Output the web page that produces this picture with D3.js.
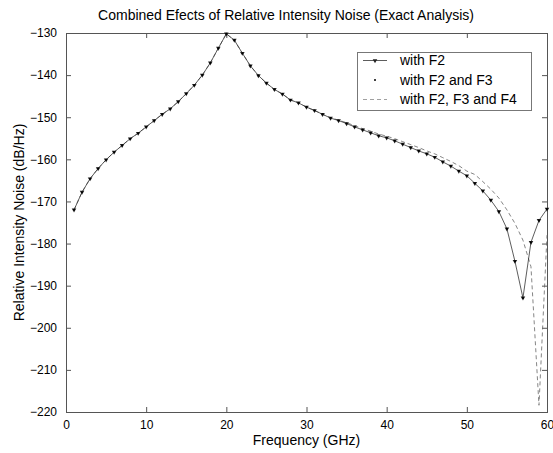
<!DOCTYPE html>
<html>
<head>
<meta charset="utf-8">
<script src="https://cdn.jsdelivr.net/npm/d3@7"></script>
<style>
  body { margin: 0; background: #fff; }
  svg { font-family: "Liberation Sans", Arial, sans-serif; }
  .tick text { font-size: 12px; fill: #000; }
  .label { font-size: 14px; fill: #000; }
</style>
</head>
<body>
<svg width="553" height="453"></svg>
<script>
const freq = d3.range(1, 61);

// with F2 (and F3, which lies on top of it)
const f2 = [
  -172.0, -167.8, -164.6, -162.2, -160.1, -158.3, -156.7, -155.1, -153.8, -152.3,
  -150.8, -149.3, -148.0, -146.3, -144.4, -142.4, -140.0, -137.1, -133.6, -130.2,
  -131.7, -134.8, -137.8, -140.1, -141.9, -143.4, -144.5, -145.9, -146.6, -147.6,
  -148.4, -149.3, -150.2, -150.8, -151.5, -152.3, -153.0, -153.7, -154.4, -154.9,
  -155.6, -156.4, -157.2, -158.0, -158.7, -159.5, -160.6, -161.6, -162.8, -163.9,
  -165.7, -167.5, -169.7, -172.4, -176.5, -184.2, -192.9, -179.7, -174.5, -171.8
];
const f23 = f2.slice();
const f234 = [
  -172.0, -167.8, -164.6, -162.2, -160.1, -158.3, -156.7, -155.1, -153.8, -152.3,
  -150.8, -149.3, -148.0, -146.3, -144.4, -142.4, -140.0, -137.1, -133.6, -130.2,
  -131.7, -134.8, -137.8, -140.1, -141.9, -143.4, -144.5, -145.9, -146.6, -147.6,
  -148.4, -149.3, -150.1, -150.7, -151.3, -152.0, -152.7, -153.3, -154.0, -154.5,
  -155.1, -155.8, -156.5, -157.2, -158.0, -158.7, -159.6, -160.5, -161.5, -162.8,
  -163.6, -165.3, -167.1, -169.2, -172.0, -175.2, -179.2, -185.5, -218.4, -178.0
];
const xTicks = [0, 10, 20, 30, 40, 50, 60];
const yTicks = [-130, -140, -150, -160, -170, -180, -190, -200, -210, -220];
const legendLabels = ['with F2', 'with F2 and F3', 'with F2, F3 and F4'];

const svg = d3.select('svg');
const margin = { top: 33, left: 66 };
const innerWidth = 481;
const innerHeight = 379;

const xScale = d3.scaleLinear().domain([0, 60]).range([0, innerWidth]);
const yScale = d3.scaleLinear().domain([-220, -130]).range([innerHeight, 0]);

const g = svg.append('g')
    .attr('transform', `translate(${margin.left},${margin.top})`);

const axisStyle = sel => {
    sel.selectAll('.domain').remove();
    sel.selectAll('line').attr('stroke', '#555');
};

g.append('g').attr('transform', `translate(0,${innerHeight})`)
    .call(d3.axisBottom(xScale).tickValues(xTicks).tickSize(-5).tickPadding(8))
    .call(axisStyle);
g.append('g')
    .call(d3.axisTop(xScale).tickValues(xTicks).tickSize(-5))
    .call(axisStyle)
    .selectAll('text').remove();
g.append('g')
    .call(d3.axisLeft(yScale).tickValues(yTicks).tickSize(-5).tickPadding(9))
    .call(axisStyle);
g.append('g').attr('transform', `translate(${innerWidth},0)`)
    .call(d3.axisRight(yScale).tickValues(yTicks).tickSize(-5))
    .call(axisStyle)
    .selectAll('text').remove();

g.append('rect')
    .attr('x', 0.5).attr('y', 0.5)
    .attr('width', innerWidth).attr('height', innerHeight)
    .attr('fill', 'none').attr('stroke', '#555');

const line = d3.line()
    .x((d, i) => xScale(freq[i]))
    .y(d => yScale(d));

g.append('path').datum(f234)
    .attr('d', line)
    .attr('fill', 'none')
    .attr('stroke', '#666')
    .attr('stroke-width', 0.8)
    .attr('stroke-dasharray', '4,3');

g.append('path').datum(f2)
    .attr('d', line)
    .attr('fill', 'none')
    .attr('stroke', '#333')
    .attr('stroke-width', 0.8);

const tri = d3.symbol().type(d3.symbolTriangle).size(9);

g.selectAll('.m2').data(f2)
    .enter().append('path')
    .attr('class', 'm2')
    .attr('d', tri)
    .attr('transform', (d, i) => `translate(${xScale(freq[i])},${yScale(d)}) rotate(180)`)
    .attr('fill', '#222');

g.selectAll('.m3').data(f23)
    .enter().append('circle')
    .attr('class', 'm3')
    .attr('cx', (d, i) => xScale(freq[i]))
    .attr('cy', d => yScale(d))
    .attr('r', 1)
    .attr('fill', '#000');

// legend
const lg = svg.append('g').attr('transform', 'translate(357,52)');
lg.append('rect')
    .attr('x', 0.5).attr('y', 0.5)
    .attr('width', 174).attr('height', 58)
    .attr('fill', '#fff').attr('stroke', '#777');

legendLabels.forEach((label, i) => {
    const cy = 8.5 + i * 19.5;
    if (i === 0) {
        lg.append('line').attr('x1', 6).attr('x2', 30).attr('y1', cy).attr('y2', cy)
            .attr('stroke', '#333').attr('stroke-width', 0.8);
        lg.append('path').attr('d', tri)
            .attr('transform', `translate(18,${cy}) rotate(180)`).attr('fill', '#222');
    } else if (i === 1) {
        lg.append('circle').attr('cx', 18).attr('cy', cy).attr('r', 1).attr('fill', '#000');
    } else {
        lg.append('line').attr('x1', 6).attr('x2', 30).attr('y1', cy).attr('y2', cy)
            .attr('stroke', '#888').attr('stroke-width', 0.8)
            .attr('stroke-dasharray', '4,3');
    }
    lg.append('text')
        .attr('class', 'label')
        .attr('x', 43)
        .attr('y', cy + 4.5)
        .text(label);
});

svg.append('text')
    .attr('class', 'label')
    .attr('x', 286).attr('y', 20)
    .attr('text-anchor', 'middle')
    .text('Combined Efects of Relative Intensity Noise (Exact Analysis)');

svg.append('text')
    .attr('class', 'label')
    .attr('x', margin.left + innerWidth / 2).attr('y', 445)
    .attr('text-anchor', 'middle')
    .text('Frequency (GHz)');

svg.append('text')
    .attr('class', 'label')
    .attr('transform', `translate(24,${margin.top + innerHeight / 2}) rotate(-90)`)
    .attr('text-anchor', 'middle')
    .text('Relative Intensity Noise (dB/Hz)');
</script>
</body>
</html>
